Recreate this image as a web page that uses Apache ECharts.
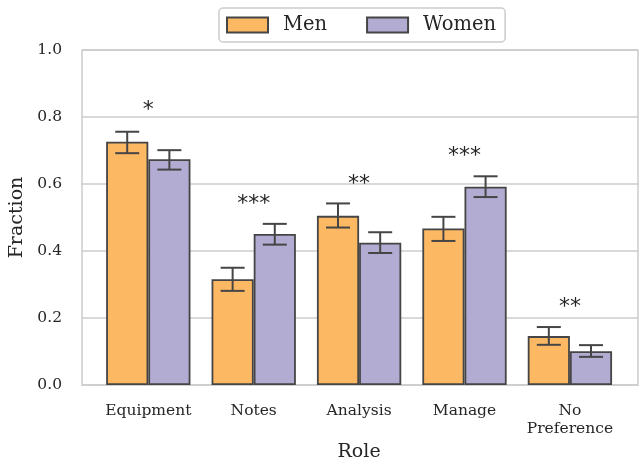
<!DOCTYPE html>
<html><head><meta charset="utf-8">
<script src="https://cdn.jsdelivr.net/npm/echarts@6/dist/echarts.min.js"></script>
<style>html,body{margin:0;padding:0;background:#fff}#c{width:641px;height:465px}</style>
</head><body><div id="c"></div>
<script>
const categories = ['Equipment', 'Notes', 'Analysis', 'Manage', 'No\nPreference'];
const menValues = [0.726, 0.316, 0.505, 0.467, 0.146];
const menLow = [0.692, 0.281, 0.470, 0.430, 0.120];
const menHigh = [0.756, 0.350, 0.542, 0.502, 0.173];
const womenValues = [0.674, 0.451, 0.425, 0.592, 0.101];
const womenLow = [0.643, 0.419, 0.394, 0.561, 0.084];
const womenHigh = [0.701, 0.481, 0.456, 0.623, 0.119];
const sigLabels = ['*', '***', '**', '***', '**'];
const sigY = [0.820, 0.540, 0.600, 0.684, 0.233];
const yTicks = [0, 0.2, 0.4, 0.6, 0.8, 1.0];

const GROUP = 0.8;
const serif = '"DejaVu Serif", serif';
const edge = '#454545';
const txt = '#262626';

function errSeries(name, low, high, side) {
  return {
    type: 'custom', name: name + ' err', z: 5, silent: true,
    xAxisIndex: 1, yAxisIndex: 1,
    data: categories.map((c, i) => [i, low[i], high[i]]),
    renderItem: function (params, api) {
      const i = api.value(0);
      const bw = api.size([1, 0])[0];
      const off = side * bw * GROUP / 4;
      const p0 = api.coord([i, api.value(1)]);
      const p1 = api.coord([i, api.value(2)]);
      const x = p0[0] + off;
      const cap = 12;
      const st = { stroke: edge, lineWidth: 2 };
      return { type: 'group', children: [
        { type: 'line', shape: { x1: x, y1: p0[1], x2: x, y2: p1[1] }, style: st },
        { type: 'line', shape: { x1: x - cap, y1: p0[1], x2: x + cap, y2: p0[1] }, style: st },
        { type: 'line', shape: { x1: x - cap, y1: p1[1], x2: x + cap, y2: p1[1] }, style: st }
      ]};
    }
  };
}

const chart = echarts.init(document.getElementById('c'), null, { renderer: 'canvas' });
chart.setOption({
  animation: false,
  backgroundColor: '#fff',
  legend: {
    data: ['Men', 'Women'], top: 8, left: 219,
    itemWidth: 41, itemHeight: 15, itemGap: 39,
    padding: [7, 9, 7, 7],
    borderColor: '#cccccc', borderWidth: 1.5, borderRadius: 4,
    textStyle: { fontFamily: serif, fontSize: 19.5, color: txt, padding: [0, 0, 0, 10] },
    icon: 'rect'
  },
  grid: [
    { left: 82, right: 3, top: 50, bottom: 80, show: true, borderColor: '#cccccc', borderWidth: 1.5, outerBoundsMode: 'none', containLabel: false },
    { left: 95.6, right: 18.4, top: 50, bottom: 80, outerBoundsMode: 'none', containLabel: false }
  ],
  xAxis: [
    { type: 'category', gridIndex: 0, data: categories, show: false },
    {
      type: 'category', gridIndex: 1, data: categories,
      name: 'Role', nameLocation: 'middle', nameGap: 58,
      nameTextStyle: { fontFamily: serif, fontSize: 19, color: txt },
      axisLine: { show: false }, axisTick: { show: false },
      axisLabel: { interval: 0, hideOverlap: false, fontFamily: serif, fontSize: 15.5, color: txt, margin: 17, lineHeight: 18 }
    }
  ],
  yAxis: [
    {
      type: 'value', gridIndex: 0, min: 0, max: 1, interval: 0.2,
      name: 'Fraction', nameLocation: 'middle', nameGap: 53,
      nameTextStyle: { fontFamily: serif, fontSize: 19, color: txt },
      axisLine: { show: false }, axisTick: { show: false },
      splitLine: { lineStyle: { color: '#cccccc', width: 1.5 } },
      axisLabel: { fontFamily: serif, fontSize: 15.5, color: txt, margin: 20,
        formatter: v => v.toFixed(1) }
    },
    { type: 'value', gridIndex: 1, min: 0, max: 1, interval: 0.2, show: false, splitLine: { show: false } }
  ],
  series: [
    { type: 'bar', name: 'Men', xAxisIndex: 1, yAxisIndex: 1, data: menValues, barGap: '0%',
      barCategoryGap: ((1 - GROUP) * 100) + '%',
      itemStyle: { color: '#fdb863', borderColor: edge, borderWidth: 1.8 } },
    { type: 'bar', name: 'Women', xAxisIndex: 1, yAxisIndex: 1, data: womenValues, barGap: '0%',
      barCategoryGap: ((1 - GROUP) * 100) + '%',
      itemStyle: { color: '#b2abd2', borderColor: edge, borderWidth: 1.8 } },
    errSeries('Men', menLow, menHigh, -1),
    errSeries('Women', womenLow, womenHigh, 1),
    {
      type: 'custom', name: 'sig', z: 6, silent: true, xAxisIndex: 1, yAxisIndex: 1,
      data: categories.map((c, i) => [i, sigY[i]]),
      renderItem: function (params, api) {
        const p = api.coord([api.value(0), api.value(1)]);
        return { type: 'text', x: p[0], y: p[1],
          style: { text: sigLabels[params.dataIndex], fontFamily: 'DejaVu Sans', fontSize: 22,
            fill: txt, align: 'center', verticalAlign: 'middle' } };
      }
    }
  ]
});
</script></body></html>
